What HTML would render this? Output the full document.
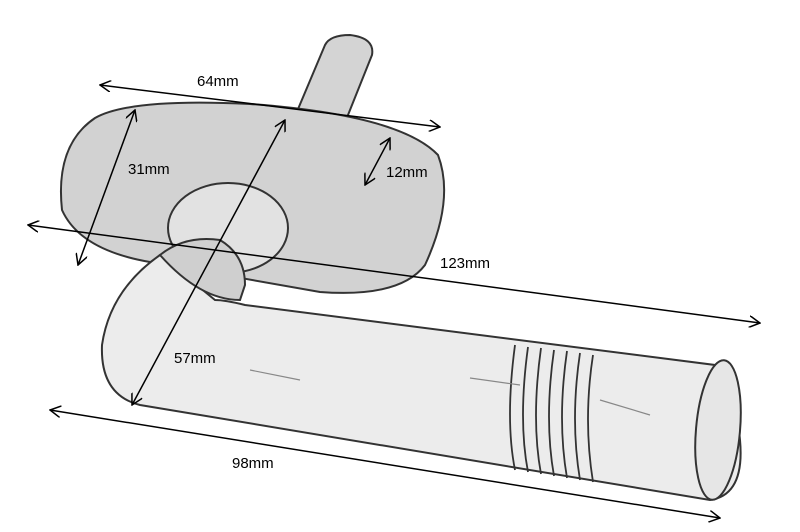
<!DOCTYPE html>
<html><head><meta charset="utf-8"><style>
html,body{margin:0;padding:0;background:#fff;width:800px;height:532px;overflow:hidden}
svg{display:block}
text{font-family:"Liberation Sans",sans-serif;font-size:15px;fill:#000}
</style></head><body>
<svg width="800" height="532" viewBox="0 0 800 532">
<defs>
<marker id="a" markerWidth="12" markerHeight="12" refX="11" refY="6" orient="auto-start-reverse" markerUnits="userSpaceOnUse">
<path d="M0,0 L11,6 L0,12" fill="none" stroke="#000" stroke-width="1.5"/>
</marker>
</defs>
<g stroke="#333" stroke-width="2" fill="#dcdcdc">
<path d="M325,45 Q330,35 350,35 Q375,38 372,55 L330,160 L285,140 Z" fill="#d4d4d4"/>
<path d="M95,118 Q130,98 250,104 Q400,115 438,155 Q455,200 425,265 Q400,298 320,292 L150,262 Q80,250 62,210 Q55,145 95,118 Z" fill="#d2d2d2"/>
<ellipse cx="228" cy="228" rx="60" ry="45" fill="#e2e2e2"/>
<path d="M160,255 Q110,290 102,345 Q100,395 140,405 L710,500 Q745,495 740,440 Q735,385 715,365 L245,305 Q225,300 215,300 L160,255 Z" fill="#ececec"/>
<path d="M160,255 Q185,235 220,240 Q245,255 245,285 L240,300 Q200,300 160,255 Z" fill="#cfcfcf"/>
<g fill="none" stroke-width="1.8">
<path d="M515,345 Q505,420 515,470"/><path d="M528,347 Q518,420 528,472"/>
<path d="M541,348 Q531,420 541,474"/><path d="M554,350 Q544,420 554,476"/>
<path d="M567,351 Q557,420 567,478"/><path d="M580,353 Q570,420 580,480"/>
<path d="M593,355 Q583,420 593,482"/>
</g>
<ellipse cx="718" cy="430" rx="22" ry="70" fill="#e6e6e6" transform="rotate(5 718 430)"/>
</g>
<g stroke="#888" stroke-width="1.2" fill="none">
<path d="M470,378 L520,385"/><path d="M600,400 L650,415"/><path d="M250,370 L300,380"/>
</g>
<g stroke="#000" stroke-width="1.5" fill="none">
<line x1="100" y1="85" x2="440" y2="127" marker-start="url(#a)" marker-end="url(#a)"/>
<line x1="135" y1="110" x2="78" y2="265" marker-start="url(#a)" marker-end="url(#a)"/>
<line x1="390" y1="138" x2="365" y2="185" marker-start="url(#a)" marker-end="url(#a)"/>
<line x1="28" y1="225" x2="760" y2="323" marker-start="url(#a)" marker-end="url(#a)"/>
<line x1="285" y1="120" x2="132" y2="405" marker-start="url(#a)" marker-end="url(#a)"/>
<line x1="50" y1="410" x2="720" y2="518" marker-start="url(#a)" marker-end="url(#a)"/>
</g>
<text x="197" y="86">64mm</text>
<text x="128" y="174">31mm</text>
<text x="386" y="177">12mm</text>
<text x="440" y="268">123mm</text>
<text x="174" y="363">57mm</text>
<text x="232" y="468">98mm</text>
</svg>
</body></html>
